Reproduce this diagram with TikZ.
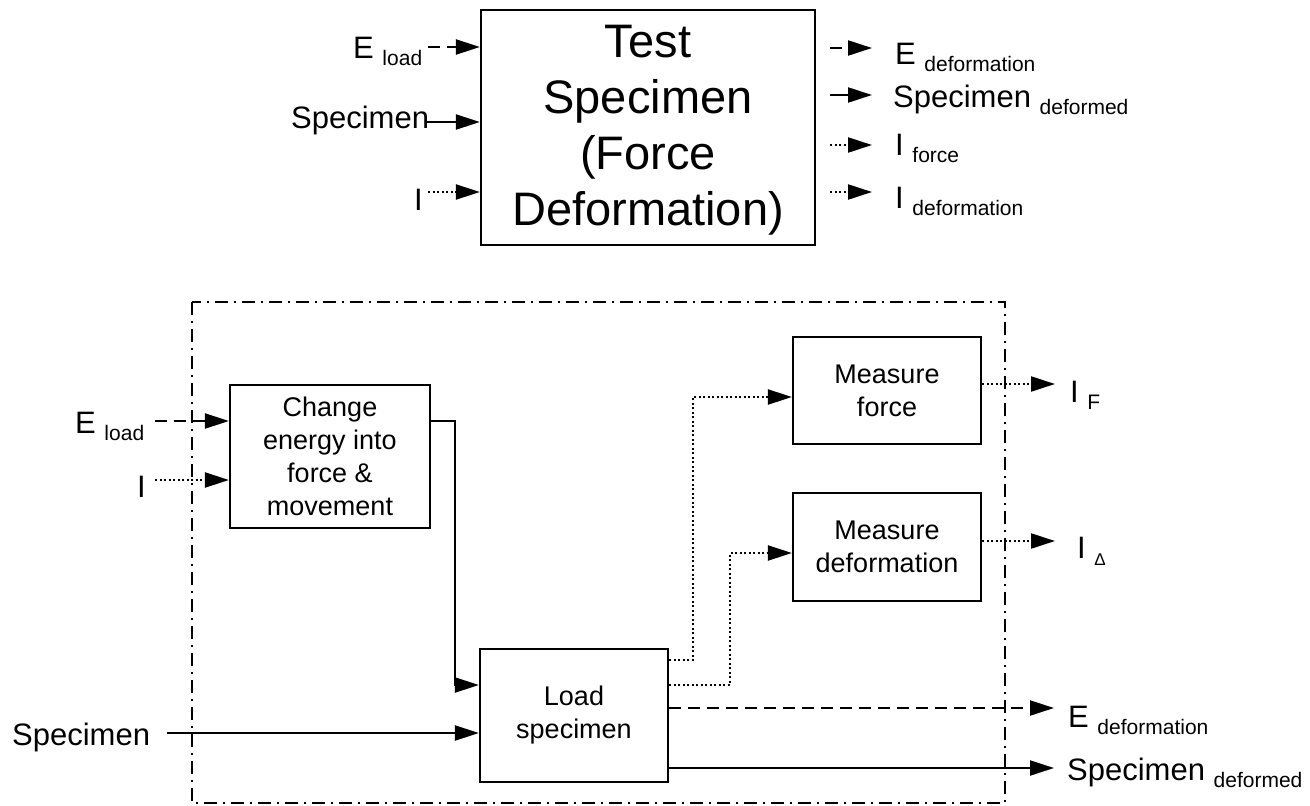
\documentclass[tikz,border=0pt]{standalone}
\usepackage{fontspec}
\setmainfont{Liberation Sans}
\usetikzlibrary{arrows.meta}

% label text: main symbol with a lowered, smaller index
\newcommand{\biglab}{\fontsize{31}{37}\selectfont}
\newcommand{\sublab}[2]{{\biglab #1 \raisebox{-7pt}{\fontsize{21}{25}\selectfont #2}}}

\begin{document}
\begin{tikzpicture}[x=1pt,y=-1pt,
  box/.style={draw,line width=2.2pt,inner sep=0pt,align=center,
    font=\fontsize{27}{33}\selectfont},
  lab/.style={anchor=base west,inner sep=0pt},
  link/.style={line width=2.2pt},
  tip/.style={-{Triangle[length=24pt,width=15pt]}},
  dsh/.style={dash pattern=on 12pt off 7pt},
  dot/.style={dash pattern=on 2pt off 2.5pt},
  frame/.style={line width=2.2pt,dash pattern=on 13pt off 6pt on 2pt off 6pt}]

\useasboundingbox (0,0) rectangle (1310,806);

% ---------- overall function ----------
\node[box,minimum width=334pt,minimum height=235pt]
  (tsp) at (648,127.5) {};
\node[align=center,inner sep=0pt,font=\fontsize{47}{56}\selectfont]
  (tspText) at (648,130) {Test\\Specimen\\(Force\\Deformation)};

% inputs
\node[lab] (tEload) at (353,58) {\sublab{E}{load}};
\node[lab] (tSpec) at (291,128) {\biglab Specimen};
\node[lab] (tI) at (414,210) {\biglab I};
\coordinate (tEin) at (428,47);
\coordinate (tSin) at (427,122);
\coordinate (tIin) at (428,192);
\draw[link,dsh,tip] (tEin) -- (tEin -| tsp.west);
\draw[link,tip] (tSin) -- (tSin -| tsp.west);
\draw[link,dot,tip] (tIin) -- (tIin -| tsp.west);

% outputs
\coordinate (tEo) at (830,48);   \coordinate (tEoE) at (872,48);
\coordinate (tSo) at (830,95);   \coordinate (tSoE) at (872,95);
\coordinate (tFo) at (830,145);  \coordinate (tFoE) at (872,145);
\coordinate (tDo) at (830,192);  \coordinate (tDoE) at (872,192);
\draw[link,dsh,tip] (tEo) -- (tEoE);
\draw[link,tip] (tSo) -- (tSoE);
\draw[link,dot,tip] (tFo) -- (tFoE);
\draw[link,dot,tip] (tDo) -- (tDoE);
\node[lab] (tEdef) at (895,64) {\sublab{E}{deformation}};
\node[lab] (tSdef) at (893,107) {\sublab{Specimen}{deformed}};
\node[lab] (tIfor) at (895,155) {\sublab{I}{force}};
\node[lab] (tIdef) at (895,208) {\sublab{I}{deformation}};

% ---------- decomposition ----------
\draw[frame] (192,302) rectangle (1005,803);

\node[box,minimum width=200pt,minimum height=143pt] (chg) at (330,456.5)
  {Change\\energy into\\force \&\\movement};
\node[box,minimum width=188pt,minimum height=133pt] (load) at (574,715.5)
  {Load\\specimen};
\node[box,minimum width=188pt,minimum height=107pt] (mf) at (887,390.5)
  {Measure\\force};
\node[box,minimum width=188pt,minimum height=108pt] (md) at (887,547)
  {Measure\\deformation};

% external inputs
\node[lab] (bEload) at (75,433) {\sublab{E}{load}};
\node[lab] (bI) at (137,497) {\biglab I};
\node[lab] (bSpec) at (12,745) {\biglab Specimen};
\coordinate (bEin) at (155,421);
\coordinate (bIin) at (155,480);
\coordinate (bSin) at (167,733);
\draw[link,dsh,tip] (bEin) -- (bEin -| chg.west);
\draw[link,dot,tip] (bIin) -- (bIin -| chg.west);
\draw[link,tip] (bSin) -- (bSin -| load.west);

% internal flows
\draw[link,tip] (chg.east |- 0,421) -- (455,421) |- (load.west |- 0,685);
\draw[link,dot,tip] (load.east |- 0,660) -- (693,660) |- (mf.west |- 0,397);
\draw[link,dot,tip] (load.east |- 0,685) -- (730,685) |- (md.west |- 0,553);

% external outputs
\coordinate (bFo) at (1055,384);
\coordinate (bDo) at (1055,541);
\coordinate (bEo) at (1054,708);
\coordinate (bSo) at (1054,768);
\draw[link,dot,tip] (mf.east |- bFo) -- (bFo);
\draw[link,dot,tip] (md.east |- bDo) -- (bDo);
\draw[link,dsh,tip] (load.east |- bEo) -- (bEo);
\draw[link,tip] (load.east |- bSo) -- (bSo);

\node[lab] (bIF) at (1070,402) {\sublab{I}{F}};
\node[lab] (bID) at (1077,558) {\sublab{I}{\fontsize{17}{20}\selectfont Δ}};
\node[lab] (bEdef) at (1068,727) {\sublab{E}{deformation}};
\node[lab] (bSdef) at (1067,780) {\sublab{Specimen}{deformed}};

\end{tikzpicture}
\end{document}
